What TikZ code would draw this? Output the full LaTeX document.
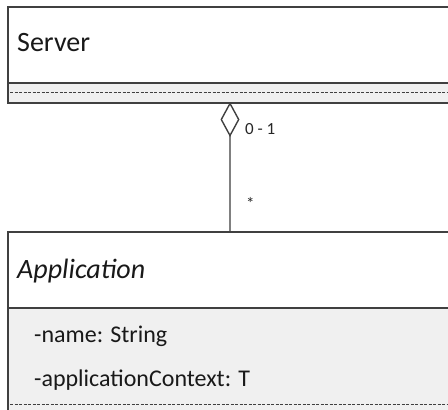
\documentclass[tikz,border=0pt]{standalone}
\usepackage{fontspec}
\setmainfont{Carlito}
\usetikzlibrary{arrows.meta}
\definecolor{framecol}{HTML}{404040}
\definecolor{stripcol}{HTML}{F0F0F0}
\definecolor{linkcol}{HTML}{808080}
\definecolor{dashcol}{HTML}{404040}
\begin{document}
\begin{tikzpicture}[x=1pt,y=-1pt,
  header/.style={draw=framecol, line width=1.6pt, fill=white, rectangle, anchor=north west,
    minimum width=470pt, minimum height=76pt, inner sep=0pt},
  compart/.style={draw=framecol, line width=1.6pt, fill=stripcol, rectangle, anchor=north west,
    minimum width=470pt, inner sep=0pt},
  divider/.style={draw=dashcol, line width=0.9pt, dash pattern=on 3pt off 1.5pt},
  title/.style={anchor=base west, inner sep=0pt, font=\fontsize{28}{32}\selectfont, text=black!90},
  attr/.style={anchor=base west, inner sep=0pt, font=\fontsize{24}{28}\selectfont, text=black!90},
  mult/.style={anchor=base west, inner sep=0pt, font=\fontsize{17}{20}\selectfont, text=black!85},
  assoc/.style={draw=linkcol, line width=1.6pt}
]
\useasboundingbox (0,0) rectangle (448,410);

% Server class
\node[header] (srvhead) at (7,6) {};
\node[compart, minimum height=20pt] (srvbody) at (7,82) {};
\draw[divider] ([xshift=3pt]srvbody.west) -- ([xshift=-1pt]srvbody.east);
\node[title] (srvname) at (17,51) {Server};

% Application class
\node[header] (apphead) at (7,231) {};
\node[compart, minimum height=120pt] (appbody) at (7,307) {};
\coordinate (appdashL) at (10,404);
\coordinate (appdashR) at (470,404);
\draw[divider] (appdashL) -- (appdashR);
\node[title] (appname) at (17,278) {\itshape Application};
\node[attr] (attrname) at (34,342.5) {-name: String};
\node[attr] (attrctx) at (34,386.5) {-applicationContext: T};

% Aggregation
\coordinate (aggtop) at (230,102);
\coordinate (aggbot) at (230,231);
\draw[assoc, {Diamond[open, length=35pt, width=19pt, line width=1.4pt, color=framecol]}-] (aggtop) -- (aggbot);
\node[mult] (multsrv) at (245,134) {0 - 1};
\node[mult] (multapp) at (246,209) {*};
\end{tikzpicture}
\end{document}
